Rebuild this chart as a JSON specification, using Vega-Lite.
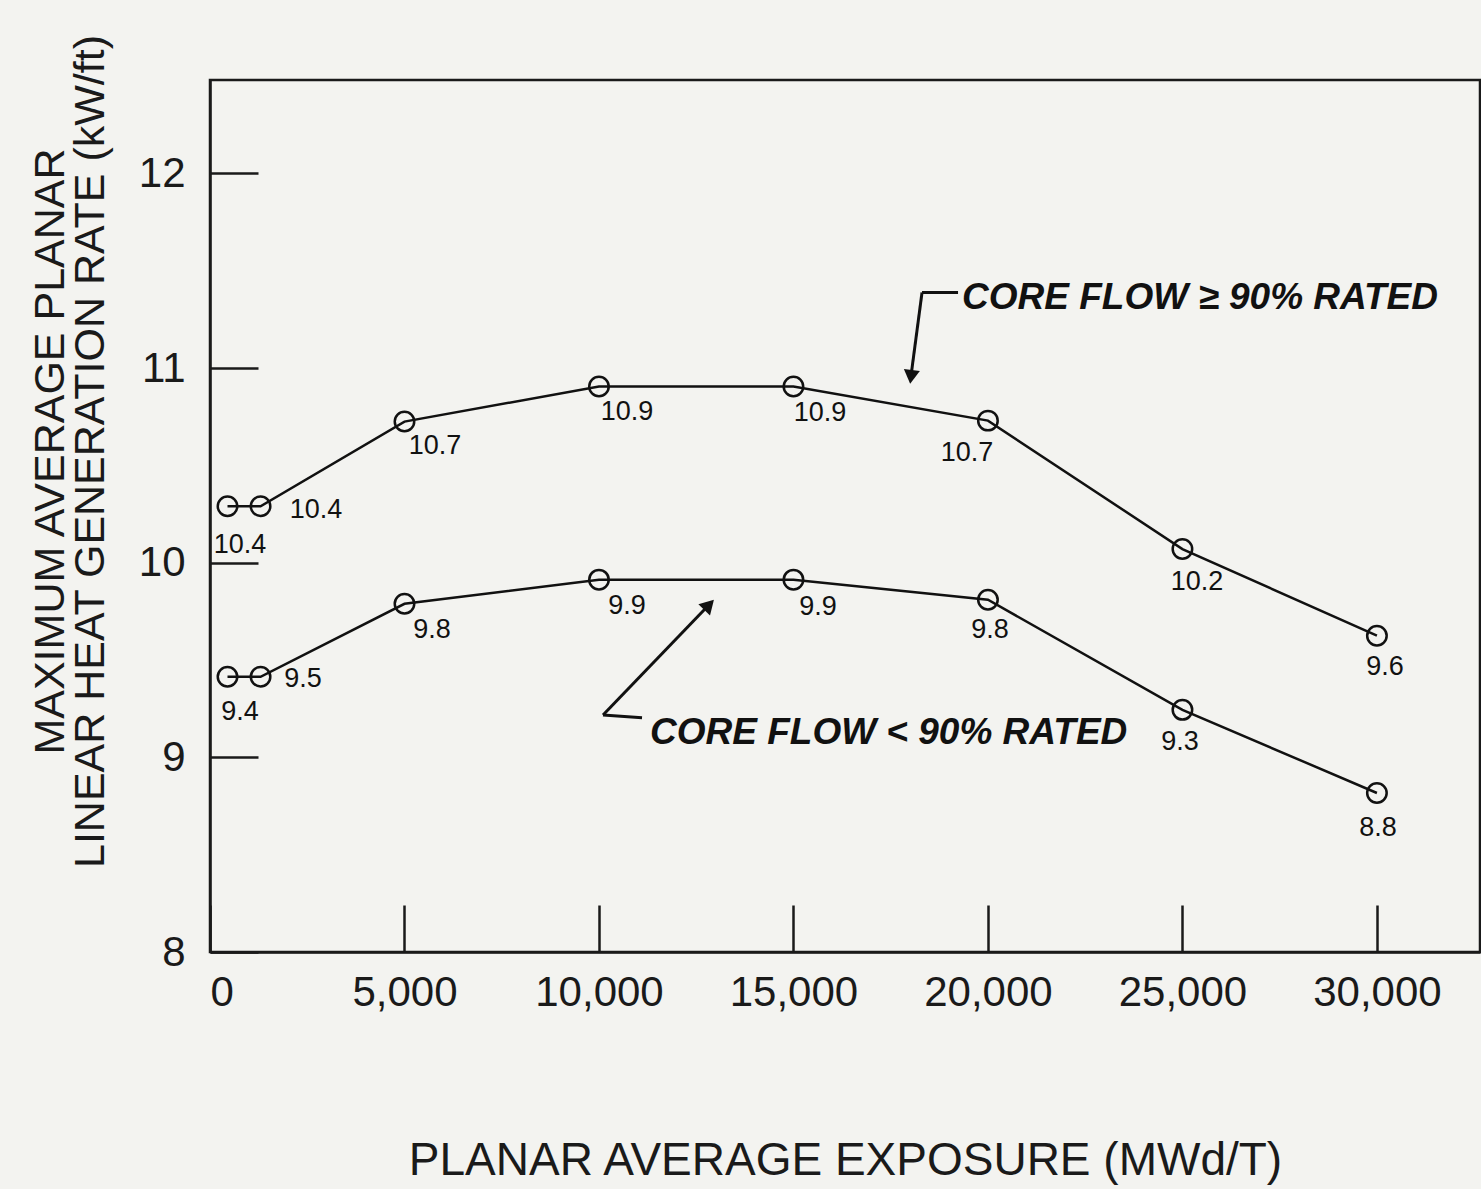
{
  "$schema": "https://vega.github.io/schema/vega-lite/v6.json",
  "width": 1270,
  "height": 872,
  "autosize": {"type": "none"},
  "padding": {"left": 210, "top": 80, "right": 1, "bottom": 237},
  "background": "#f3f3f0",
  "config": {
    "view": {"stroke": "#1a1a1a", "strokeWidth": 2.5},
    "font": "Liberation Sans",
    "axis": {
      "domainColor": "#1a1a1a",
      "domainWidth": 2.5,
      "tickColor": "#1a1a1a",
      "tickWidth": 2.5,
      "grid": false,
      "labelColor": "#1a1a1a",
      "titleColor": "#1a1a1a",
      "labelFont": "Liberation Sans",
      "titleFont": "Liberation Sans",
      "titleFontWeight": "normal"
    }
  },
  "datasets": {
    "series": [
      {"exposure": 450, "mlhgr": 10.29, "flow": "high", "label": "10.4", "lx": 771, "ly": 10.093},
      {"exposure": 1300, "mlhgr": 10.29, "flow": "high", "label": "10.4", "lx": 2725, "ly": 10.273},
      {"exposure": 5000, "mlhgr": 10.725, "flow": "high", "label": "10.7", "lx": 5785, "ly": 10.602},
      {"exposure": 10000, "mlhgr": 10.905, "flow": "high", "label": "10.9", "lx": 10721, "ly": 10.776},
      {"exposure": 15000, "mlhgr": 10.905, "flow": "high", "label": "10.9", "lx": 15683, "ly": 10.771},
      {"exposure": 20000, "mlhgr": 10.73, "flow": "high", "label": "10.7", "lx": 19462, "ly": 10.566},
      {"exposure": 25000, "mlhgr": 10.07, "flow": "high", "label": "10.2", "lx": 25375, "ly": 9.902},
      {"exposure": 30000, "mlhgr": 9.625, "flow": "high", "label": "9.6", "lx": 30209, "ly": 9.465},
      {"exposure": 450, "mlhgr": 9.414, "flow": "low", "label": "9.4", "lx": 771, "ly": 9.234},
      {"exposure": 1300, "mlhgr": 9.414, "flow": "low", "label": "9.5", "lx": 2391, "ly": 9.404},
      {"exposure": 5000, "mlhgr": 9.789, "flow": "low", "label": "9.8", "lx": 5708, "ly": 9.656},
      {"exposure": 10000, "mlhgr": 9.913, "flow": "low", "label": "9.9", "lx": 10721, "ly": 9.779},
      {"exposure": 15000, "mlhgr": 9.913, "flow": "low", "label": "9.9", "lx": 15632, "ly": 9.774},
      {"exposure": 20000, "mlhgr": 9.81, "flow": "low", "label": "9.8", "lx": 20054, "ly": 9.656},
      {"exposure": 25000, "mlhgr": 9.244, "flow": "low", "label": "9.3", "lx": 24939, "ly": 9.08},
      {"exposure": 30000, "mlhgr": 8.817, "flow": "low", "label": "8.8", "lx": 30029, "ly": 8.638}
    ],
    "leaders": [
      {"x1": 19231, "y1": 11.388, "x2": 18305, "y2": 11.388},
      {"x1": 18305, "y1": 11.388, "x2": 18022, "y2": 10.96},
      {"x1": 12830, "y1": 9.784, "x2": 10104, "y2": 9.218},
      {"x1": 10104, "y1": 9.218, "x2": 11107, "y2": 9.203}
    ],
    "notes": [
      {"nx": 19334, "ny": 11.362, "note": "CORE FLOW ≥ 90% RATED"},
      {"nx": 11312, "ny": 9.126, "note": "CORE FLOW < 90% RATED"}
    ]
  },
  "layer": [
    {
      "data": {"name": "series"},
      "mark": {"type": "line", "color": "#111111", "strokeWidth": 2.5},
      "encoding": {
        "x": {
          "field": "exposure", "type": "quantitative",
          "scale": {"domain": [0, 32650], "nice": false, "zero": false},
          "axis": {
            "values": [0, 5000, 10000, 15000, 20000, 25000, 30000],
            "format": ",d",
            "tickSize": -47,
            "labelPadding": 67,
            "labelFontSize": 42,
            "title": "PLANAR AVERAGE EXPOSURE (MWd/T)",
            "titleFontSize": 46,
            "titleBaseline": "middle",
            "titleY": 208
          }
        },
        "y": {
          "field": "mlhgr", "type": "quantitative",
          "scale": {"domain": [8, 12.48], "nice": false, "zero": false},
          "axis": {
            "values": [8, 9, 10, 11, 12],
            "format": "d",
            "tickSize": -48,
            "labelPadding": 73,
            "labelFontSize": 42,
            "title": ["MAXIMUM AVERAGE PLANAR", "LINEAR HEAT GENERATION RATE (kW/ft)"],
            "titleFontSize": 43,
            "titleLineHeight": 40,
            "titleAngle": -90,
            "titleAlign": "center",
            "titleBaseline": "middle",
            "titleX": -160,
            "titleY": 371
          }
        },
        "detail": {"field": "flow"}
      }
    },
    {
      "data": {"name": "series"},
      "mark": {"type": "point", "shape": "circle", "filled": false, "color": "#111111", "opacity": 1, "size": 380, "strokeWidth": 2.5},
      "encoding": {
        "x": {"field": "exposure", "type": "quantitative"},
        "y": {"field": "mlhgr", "type": "quantitative"}
      }
    },
    {
      "data": {"name": "series"},
      "mark": {"type": "text", "fontSize": 27, "color": "#111111", "align": "center", "baseline": "middle"},
      "encoding": {
        "x": {"field": "lx", "type": "quantitative"},
        "y": {"field": "ly", "type": "quantitative"},
        "text": {"field": "label"}
      }
    },
    {
      "data": {"name": "leaders"},
      "mark": {"type": "rule", "color": "#111111", "strokeWidth": 3},
      "encoding": {
        "x": {"field": "x1", "type": "quantitative"},
        "y": {"field": "y1", "type": "quantitative"},
        "x2": {"field": "x2"},
        "y2": {"field": "y2"}
      }
    },
    {
      "data": {"values": [{"ax": 18022, "ay": 10.955}]},
      "mark": {"type": "point", "shape": "triangle-down", "filled": true, "color": "#111111", "size": 260, "angle": 7, "opacity": 1},
      "encoding": {
        "x": {"field": "ax", "type": "quantitative"},
        "y": {"field": "ay", "type": "quantitative"}
      }
    },
    {
      "data": {"values": [{"ax": 12830, "ay": 9.784}]},
      "mark": {"type": "point", "shape": "triangle-up", "filled": true, "color": "#111111", "size": 260, "angle": 44, "opacity": 1},
      "encoding": {
        "x": {"field": "ax", "type": "quantitative"},
        "y": {"field": "ay", "type": "quantitative"}
      }
    },
    {
      "data": {"name": "notes"},
      "mark": {"type": "text", "fontSize": 37, "fontStyle": "italic", "fontWeight": "bold", "color": "#111111", "align": "left", "baseline": "middle"},
      "encoding": {
        "x": {"field": "nx", "type": "quantitative"},
        "y": {"field": "ny", "type": "quantitative"},
        "text": {"field": "note"}
      }
    }
  ]
}
